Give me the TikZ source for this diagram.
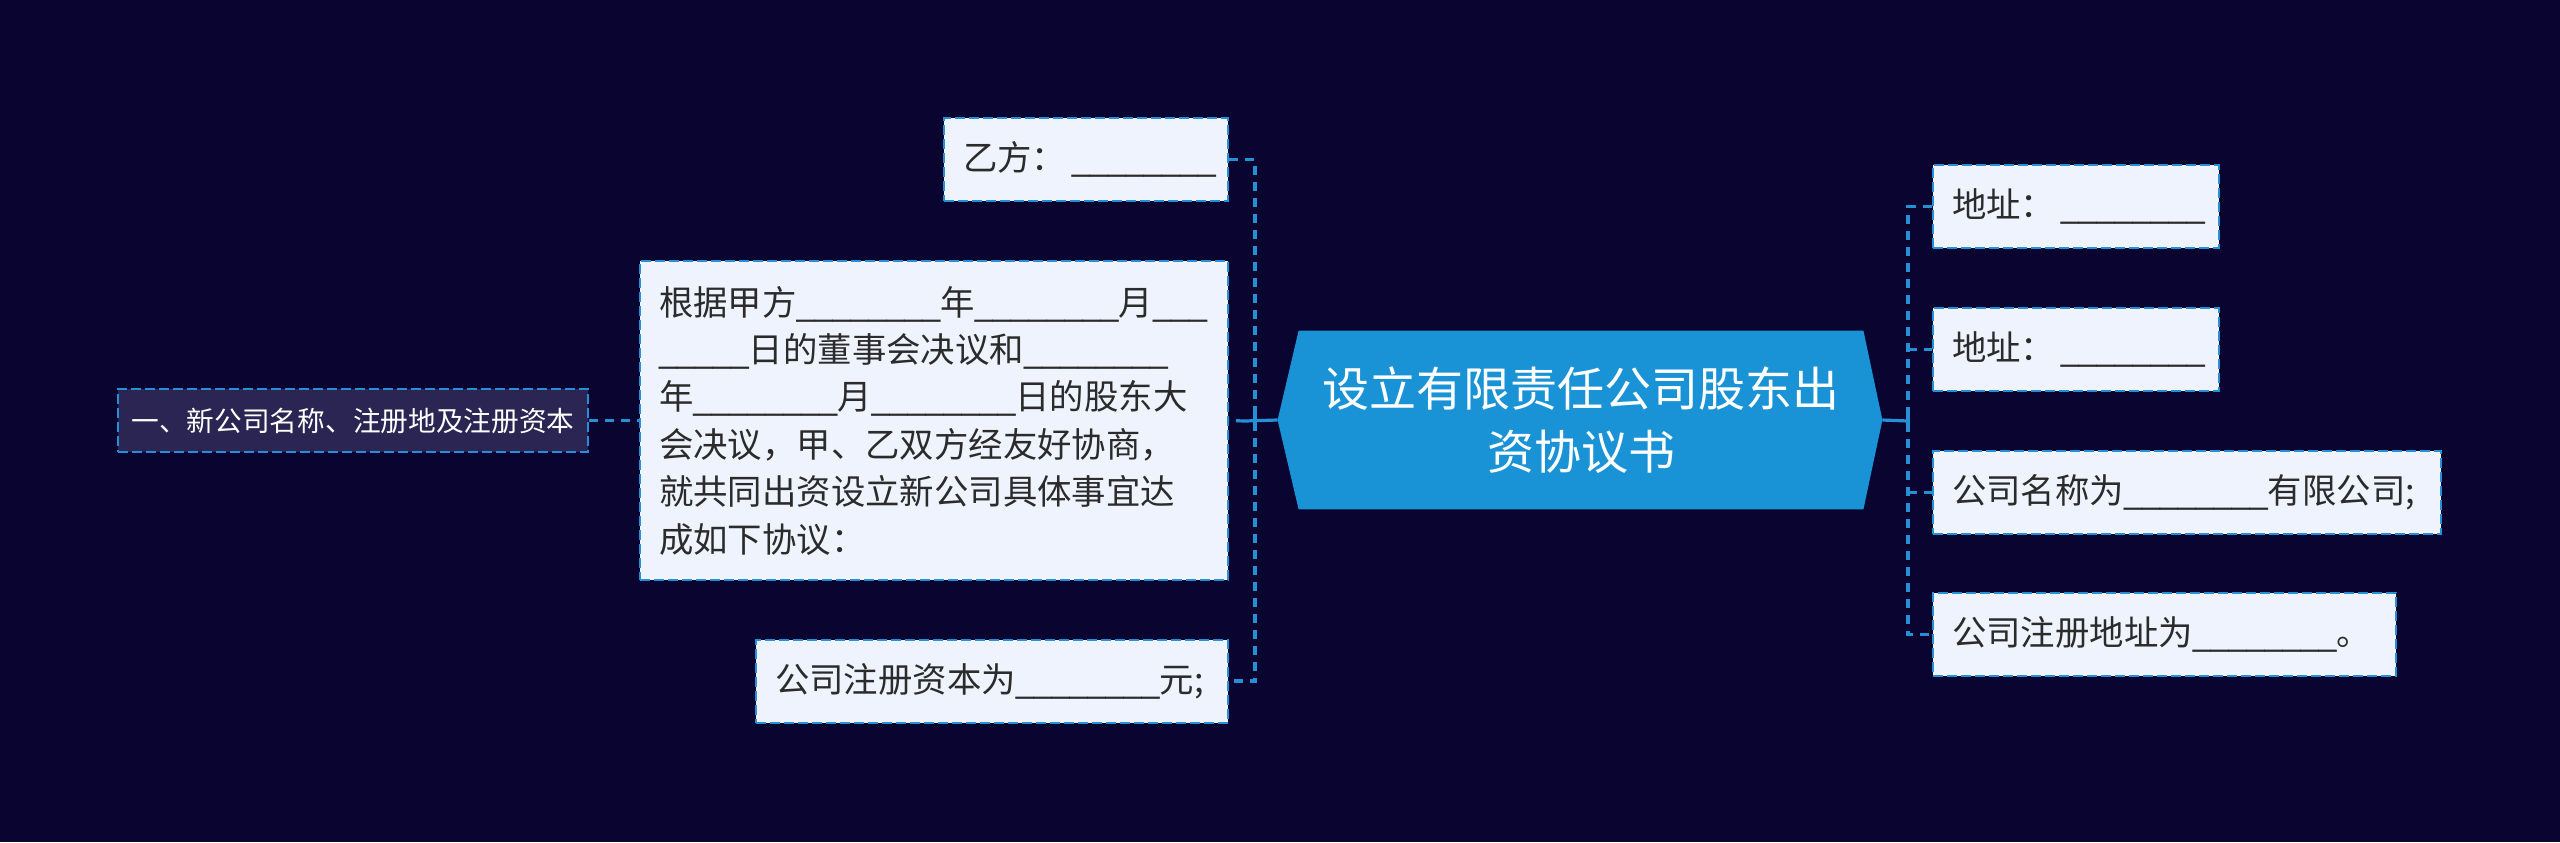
\documentclass[tikz,border=0pt]{standalone}
\usepackage{fontspec}
\setmainfont{Noto Sans CJK SC}
\newfontfamily\usfont[FakeStretch=0.94]{Liberation Sans}
\usetikzlibrary{calc}
\pgfdeclarelayer{bg}
\pgfsetlayers{bg,main}
\definecolor{bgc}{HTML}{0A0530}
\definecolor{hexc}{HTML}{1A93D6}
\definecolor{linec}{HTML}{2590D6}
\definecolor{boxc}{HTML}{EEF3FD}
\definecolor{subc}{HTML}{2A2552}
\definecolor{txtc}{HTML}{2B2B2B}
\newcommand{\leaffont}{\fontsize{17.2pt}{23.7pt}\selectfont}
\newcommand{\us}[1]{{\usfont #1}}
\newcommand{\blankline}{\us{\_\_\_\_\_\_\_\_}}
\begin{document}
\begin{tikzpicture}[x=0.5pt,y=-0.5pt,
  leafbox/.style={draw=linec, line width=1pt, dash pattern=on 5pt off 2pt,
    fill=boxc, text=txtc, font=\leaffont, inner xsep=9.5pt, inner ysep=0pt,
    align=left, minimum height=41.5pt},
  conn/.style={draw=linec, line width=1.6pt, dash pattern=on 4.5pt off 3.5pt},
  solidc/.style={draw=linec, line width=1.6pt}]
\useasboundingbox (0,0) rectangle (2560,842);

% root
\node[text=white, align=center, font=\fontsize{23.5pt}{31.5pt}\selectfont,
  minimum width=282pt, minimum height=89pt, inner sep=0pt] (root) at (1581,420)
  {设立有限责任公司股东出\\资协议书};
\coordinate (hl) at ($(root.west)+(-21,0)$);
\coordinate (hr) at ($(root.east)+(19,0)$);
\begin{pgfonlayer}{bg}
\fill[bgc] (0,0) rectangle (2560,842);
\fill[hexc] (root.north west) -- (root.north east) -- (hr) -- (root.south east)
  -- (root.south west) -- (hl) -- cycle;
\end{pgfonlayer}

% left side
\node[leafbox, text width=123pt] (yifang) at (1086,159.5) {乙方：\,\blankline};
\node[leafbox, text width=275pt, minimum height=159.5pt] (main) at (934,420.5)
  {根据甲方\blankline 年\blankline 月\us{\_\_\_}\\
   \us{\_\_\_\_\_}日的董事会决议和\blankline\\
   年\blankline 月\blankline 日的股东大\\
   会决议，甲、乙双方经友好协商，\\
   就共同出资设立新公司具体事宜达\\
   成如下协议：};
\node[leafbox, text width=217pt] (ziben) at (992,681) {公司注册资本为\blankline 元;};
\node[draw=linec, line width=1pt, dash pattern=on 5pt off 2pt, fill=subc,
  text=white, font=\fontsize{13.85pt}{16pt}\selectfont, inner sep=0pt,
  minimum width=235pt, minimum height=31.5pt] (sub) at (353,420.5)
  {一、新公司名称、注册地及注册资本};

% right side
\node[leafbox, text width=124pt] (addr1) at (2076,206.5) {地址：\,\blankline};
\node[leafbox, text width=124pt] (addr2) at (2076,349.5) {地址：\,\blankline};
\node[leafbox, text width=235pt] (cname) at (2187,492.5) {公司名称为\blankline 有限公司;};
\node[leafbox, text width=212.5pt] (reg) at (2164.5,634.5) {公司注册地址为\blankline 。};

% junctions
\coordinate (lj) at (1255,421);
\coordinate (lx) at (1245,421);
\coordinate (ljt) at (1255,412);
\coordinate (ljb) at (1255,430);
\coordinate (rj) at (1908,421);
\coordinate (rjt) at (1908,412);
\coordinate (rjb) at (1908,430);

% left connectors
\draw[solidc] (hl) -- (lx);
\draw[solidc] (ljt) -- (ljb);
\draw[conn] (yifang.east) -- (yifang.east -| lj) -- (ziben.east -| lj) -- (ziben.east);
\draw[conn] (lx) -- (main.east);
\draw[conn] (sub.east) -- (main.west);

% right connectors
\draw[solidc] (hr) -- (rj);
\draw[solidc] (rjt) -- (rjb);
\draw[conn] (addr1.west) -- (addr1.west -| rj) -- (reg.west -| rj) -- (reg.west);
\draw[conn] (addr2.west -| rj) -- (addr2.west);
\draw[conn] (cname.west -| rj) -- (cname.west);
\end{tikzpicture}
\end{document}
